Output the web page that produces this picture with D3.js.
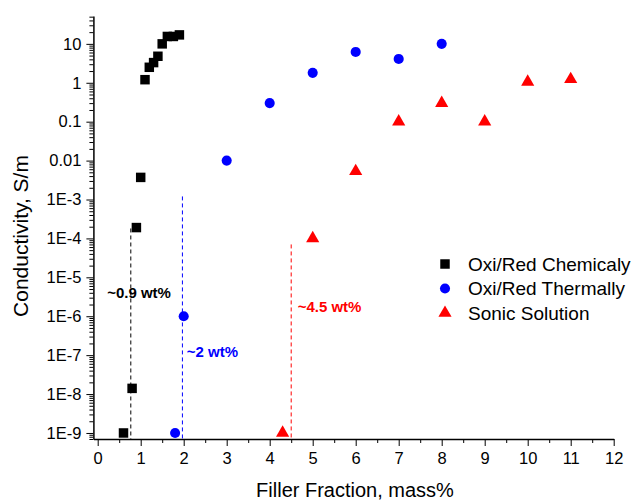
<!DOCTYPE html>
<html>
<head>
<meta charset="utf-8">
<script src="https://cdn.jsdelivr.net/npm/d3@7"></script>
<style>
  body { margin: 0; background: #fff; }
  svg { font-family: "Liberation Sans", Arial, sans-serif; }
  .axis path, .axis line { stroke: #000; }
  .axis path { stroke-width: 1.5; }
  .axis text { font-size: 16.5px; fill: #000; }
</style>
</head>
<body>
<div id="chart"></div>
<script>
const width = 640,
height = 502;

// x positions in mass%, conductivity in S/m
const chemX = [0.6, 0.8, 0.9, 1.0, 1.1, 1.2, 1.3, 1.4, 1.5, 1.62, 1.76, 1.9];
const chemY = [1e-9, 1.4e-8, 1.9e-4, 3.7e-3, 1.2, 2.5, 3.3, 4.8, 10, 15.5, 15.5, 17];

const thermX = [1.8, 2.0, 3, 4, 5, 6, 7, 8];
const thermY = [1e-9, 1e-6, 0.01, 0.3, 1.8, 6.2, 4.1, 10];

const sonicX = [4.3, 5, 6, 7, 8, 9, 10, 11];
const sonicY = [1e-9, 1e-4, 5.3e-3, 0.1, 0.3, 0.1, 1.05, 1.23];

const seriesNames = ['Oxi/Red Chemicaly', 'Oxi/Red Thermally', 'Sonic Solution'];
const seriesColors = ['#000000', '#0000ff', '#ff0000'];

const xTicks = [0, 1, 2, 3, 4, 5, 6, 7, 8, 9, 10, 11, 12];
const yTicks = [1e-9, 1e-8, 1e-7, 1e-6, 1e-5, 1e-4, 1e-3, 0.01, 0.1, 1, 10];
const yTickLabels = ['1E-9', '1E-8', '1E-7', '1E-6', '1E-5', '1E-4', '1E-3', '0.01', '0.1', '1', '10'];

// threshold markers: x, top value, label, label position
const thresholdX = [0.77, 1.97, 4.5];
const thresholdTop = [1.8e-4, 1.2e-3, 7e-5];
const thresholdText = ['~0.9 wt%', '~2 wt%', '~4.5 wt%'];
const labelX = [0.22, 2.07, 4.65];
const labelY = [4e-6, 1.2e-7, 1.8e-6];

const x = d3.scaleLinear().domain([-0.1, 12]).range([93.4, 613.7]);
const y = d3.scaleLog().domain([7e-10, 52]).range([439, 16]);

const svg = d3.select('#chart').
append('svg').
attr('width', width).
attr('height', height);

// minor ticks first
const xMinor = d3.range(0.5, 12, 1);
svg.append('g').
attr('class', 'axis').
attr('transform', `translate(0,${y.range()[0]})`).
call(d3.axisBottom(x).tickValues(xMinor).tickSize(4).tickSizeOuter(0).tickFormat('')).
call(g => g.select('.domain').remove());

const yMinor = [];
for (let e = -10; e <= 1; e++) {
  for (let k = 2; k <= 9; k++) {
    const v = k * Math.pow(10, e);
    if (v > y.domain()[0] && v < y.domain()[1]) yMinor.push(v);
  }
}
svg.append('g').
attr('class', 'axis').
attr('transform', `translate(${x.range()[0]},0)`).
call(d3.axisLeft(y).tickValues(yMinor).tickSize(4).tickSizeOuter(0).tickFormat('')).
call(g => g.select('.domain').remove());

svg.append('g').
attr('class', 'axis').
attr('transform', `translate(0,${y.range()[0]})`).
call(d3.axisBottom(x).tickValues(xTicks).tickSize(7).tickSizeOuter(0).tickPadding(6).tickFormat(d3.format('d')));

svg.append('g').
attr('class', 'axis').
attr('transform', `translate(${x.range()[0]},0)`).
call(d3.axisLeft(y).tickValues(yTicks).tickSize(7).tickSizeOuter(0).tickPadding(5).
tickFormat((d, i) => yTickLabels[i]));

// axis titles
svg.append('text').
attr('x', 355).
attr('y', 497).
attr('text-anchor', 'middle').
style('font-size', '20px').
text('Filler Fraction, mass%');

svg.append('text').
attr('transform', 'translate(28,236) rotate(-90)').
attr('text-anchor', 'middle').
style('font-size', '21px').
text('Conductivity, S/m');

// dashed threshold lines
svg.selectAll('.threshold').
data(thresholdX).
enter().
append('line').
attr('class', 'threshold').
attr('x1', d => x(d)).
attr('x2', d => x(d)).
attr('y1', (d, i) => y(thresholdTop[i])).
attr('y2', y.range()[0]).
attr('stroke', (d, i) => seriesColors[i]).
attr('stroke-width', 1).
attr('stroke-dasharray', '4,3');

svg.selectAll('.threshold-label').
data(thresholdText).
enter().
append('text').
attr('class', 'threshold-label').
attr('x', (d, i) => x(labelX[i])).
attr('y', (d, i) => y(labelY[i])).
attr('dy', '0.35em').
style('font-size', '15px').
style('font-weight', 'bold').
style('fill', (d, i) => seriesColors[i]).
text(d => d);

// markers
const square = d3.symbol().type(d3.symbolSquare).size(90);
const circle = d3.symbol().type(d3.symbolCircle).size(80);
const triangle = d3.symbol().type(d3.symbolTriangle).size(75);
const shapes = [square, circle, triangle];

const series = [
{ xs: chemX, ys: chemY },
{ xs: thermX, ys: thermY },
{ xs: sonicX, ys: sonicY }];


series.forEach((s, si) => {
  svg.append('g').
  selectAll('path').
  data(s.xs.map((v, i) => [v, s.ys[i]])).
  enter().
  append('path').
  attr('d', shapes[si]()).
  attr('transform', d => `translate(${x(d[0])},${y(d[1])})`).
  attr('fill', seriesColors[si]);
});

// legend
const legend = svg.append('g').
attr('id', 'legend').
attr('transform', 'translate(445,264)');

legend.selectAll('path').
data(seriesNames).
enter().
append('path').
attr('d', (d, i) => shapes[i]()).
attr('transform', (d, i) => `translate(0,${i * 24.5})`).
attr('fill', (d, i) => seriesColors[i]);

legend.selectAll('text').
data(seriesNames).
enter().
append('text').
attr('x', 23).
attr('y', (d, i) => i * 24.5).
attr('dy', '0.36em').
style('font-size', '19px').
text(d => d);
</script>
</body>
</html>
